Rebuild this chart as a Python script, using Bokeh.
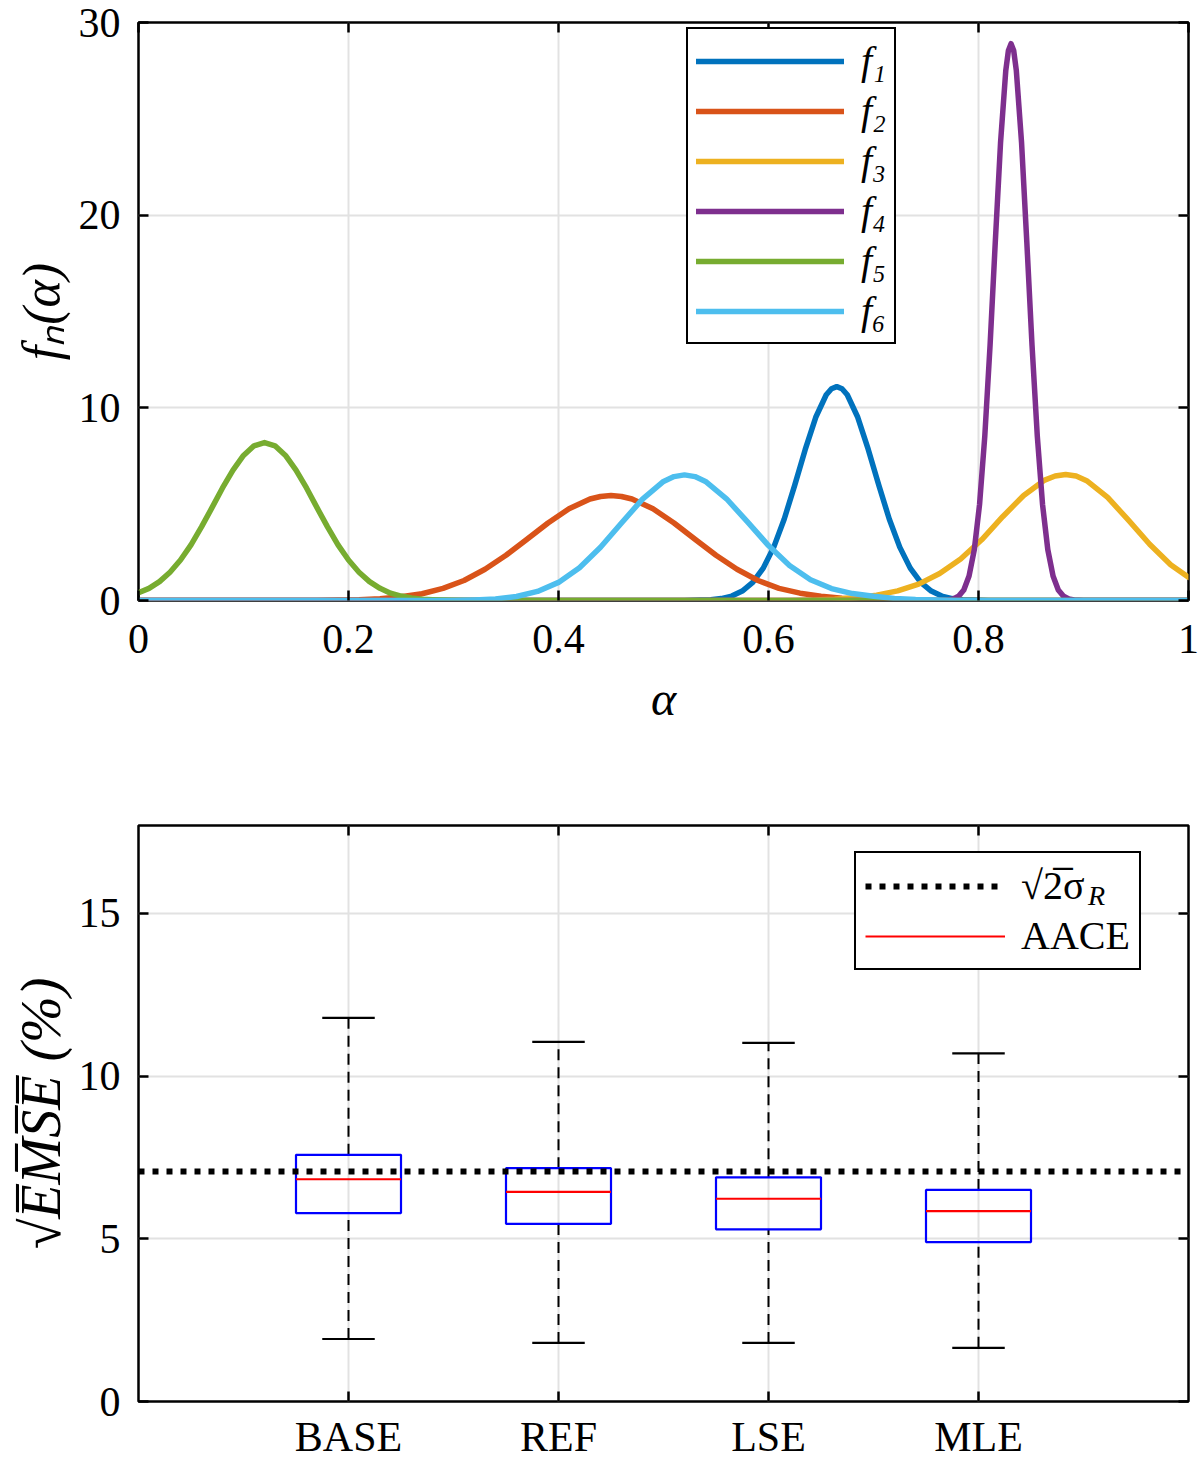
from bokeh.plotting import figure
from bokeh.layouts import column
from bokeh.models import LinearAxis, FixedTicker, Legend, LegendItem, Range1d
from bokeh.embed import file_html
from bokeh.resources import INLINE

# ---------------- top panel data ----------------
f1_alpha = [0.0, 0.52, 0.535, 0.545, 0.555, 0.565, 0.575, 0.585, 0.595, 0.605,
            0.615, 0.625, 0.635, 0.645, 0.655, 0.66, 0.665, 0.67, 0.675, 0.685,
            0.695, 0.705, 0.715, 0.725, 0.735, 0.745, 0.755, 0.765, 0.775, 0.785,
            0.795, 0.81, 1.0]
f1_val = [0, 0, 0.02, 0.04, 0.10, 0.23, 0.49, 0.94, 1.68, 2.77,
          4.23, 5.99, 7.84, 9.51, 10.68, 10.99, 11.10, 10.99, 10.68, 9.51,
          7.84, 5.99, 4.23, 2.77, 1.68, 0.94, 0.49, 0.23, 0.10, 0.04,
          0.02, 0, 0]

f2_alpha = [0.0, 0.17, 0.19, 0.21, 0.23, 0.25, 0.27, 0.29, 0.31, 0.33,
            0.35, 0.37, 0.39, 0.41, 0.43, 0.44, 0.45, 0.46, 0.47, 0.49,
            0.51, 0.53, 0.55, 0.57, 0.59, 0.61, 0.63, 0.65, 0.67, 0.69,
            0.71, 0.73, 0.76, 1.0]
f2_val = [0, 0, 0.02, 0.04, 0.09, 0.19, 0.35, 0.63, 1.04, 1.62,
          2.35, 3.18, 4.02, 4.76, 5.27, 5.40, 5.45, 5.40, 5.27, 4.76,
          4.02, 3.18, 2.35, 1.62, 1.04, 0.63, 0.38, 0.22, 0.12, 0.06,
          0.03, 0.01, 0, 0]

f3_alpha = [0.0, 0.62, 0.643, 0.663, 0.683, 0.703, 0.723, 0.743, 0.763, 0.783,
            0.803, 0.823, 0.843, 0.863, 0.873, 0.883, 0.893, 0.903, 0.923, 0.943,
            0.963, 0.983, 1.0]
f3_val = [0, 0, 0.02, 0.06, 0.14, 0.28, 0.50, 0.85, 1.40, 2.15,
          3.15, 4.35, 5.45, 6.25, 6.46, 6.54, 6.46, 6.22, 5.35, 4.16,
          2.92, 1.86, 1.20]

f4_alpha = [0.0, 0.76, 0.771, 0.776, 0.781, 0.786, 0.791, 0.796, 0.801, 0.806,
            0.811, 0.816, 0.821, 0.826, 0.8285, 0.831, 0.8335, 0.836, 0.841, 0.846,
            0.851, 0.856, 0.861, 0.866, 0.871, 0.876, 0.881, 0.886, 0.891, 0.90, 1.0]
f4_val = [0, 0, 0.03, 0.08, 0.22, 0.55, 1.27, 2.64, 4.98, 8.53,
          13.23, 18.62, 23.77, 27.52, 28.55, 28.90, 28.55, 27.52, 23.77, 18.62,
          13.23, 8.53, 4.98, 2.64, 1.27, 0.55, 0.22, 0.08, 0.03, 0, 0]

f5_alpha = [0.00, 0.01, 0.02, 0.03, 0.04, 0.05, 0.06, 0.07, 0.08, 0.09,
            0.10, 0.11, 0.12, 0.13, 0.14, 0.15, 0.16, 0.17, 0.18, 0.19,
            0.20, 0.21, 0.22, 0.23, 0.24, 0.25, 0.26, 0.27, 0.28, 0.29,
            0.30, 0.32, 1.0]
f5_val = [0.40, 0.63, 0.98, 1.47, 2.10, 2.89, 3.82, 4.82, 5.84, 6.77,
          7.53, 8.03, 8.20, 8.03, 7.53, 6.77, 5.84, 4.82, 3.82, 2.89,
          2.10, 1.47, 0.98, 0.63, 0.38, 0.23, 0.13, 0.07, 0.04, 0.02,
          0.01, 0, 0]

f6_alpha = [0.0, 0.30, 0.32, 0.34, 0.36, 0.38, 0.40, 0.42, 0.44, 0.46,
            0.48, 0.50, 0.51, 0.52, 0.53, 0.54, 0.56, 0.58, 0.60, 0.62,
            0.64, 0.66, 0.68, 0.70, 0.72, 0.74, 0.76, 0.78, 1.0]
f6_val = [0, 0, 0.03, 0.08, 0.21, 0.47, 0.94, 1.70, 2.76, 4.02,
          5.26, 6.18, 6.43, 6.52, 6.43, 6.18, 5.28, 4.08, 2.85, 1.82,
          1.08, 0.62, 0.36, 0.22, 0.11, 0.05, 0.02, 0, 0]

series_labels = ["f\u2081", "f\u2082", "f\u2083", "f\u2084", "f\u2085", "f\u2086"]
series_colors = ["#0072BD", "#D95319", "#EDB120", "#7E2F8E", "#77AC30", "#4DBEEE"]

top_x_ticks = [0, 0.2, 0.4, 0.6, 0.8, 1]
top_x_tick_labels = ["0", "0.2", "0.4", "0.6", "0.8", "1"]
top_y_ticks = [0, 10, 20, 30]

# ---------------- bottom panel data ----------------
methods = ["BASE", "REF", "LSE", "MLE"]
whisker_hi = [11.79, 11.05, 11.02, 10.70]
q3 = [7.58, 7.17, 6.89, 6.50]
medians = [6.83, 6.44, 6.23, 5.85]
q1 = [5.79, 5.46, 5.29, 4.90]
whisker_lo = [1.92, 1.80, 1.80, 1.65]
sigma_ref = 7.07
bottom_y_ticks = [0, 5, 10, 15]

FONT = "Liberation Serif"
TICK_FS = "42px"
GRID = "#E2E2E2"


def style_axis(ax, labels=True):
    ax.major_tick_in = 10
    ax.major_tick_out = 0
    ax.minor_tick_in = 0
    ax.minor_tick_out = 0
    ax.major_tick_line_width = 2.5
    ax.major_tick_line_color = "black"
    ax.axis_line_color = None
    ax.major_label_text_font = FONT
    ax.major_label_text_color = "black"
    if labels:
        ax.major_label_text_font_size = TICK_FS
    else:
        ax.major_label_text_font_size = "0px"
        ax.major_label_standoff = 0
        ax.axis_label = None


def finish(p):
    p.outline_line_color = "black"
    p.outline_line_width = 2.5
    p.outline_line_alpha = 1.0
    p.background_fill_color = "white"
    p.border_fill_color = "white"
    for g in (p.xgrid[0], p.ygrid[0]):
        g.grid_line_color = GRID
        g.grid_line_width = 2


# ---------------- top figure ----------------
p1 = figure(width=1200, height=740, x_range=Range1d(0, 1), y_range=Range1d(0, 30),
            output_backend="svg", toolbar_location=None,
            min_border_left=138, min_border_right=12, min_border_top=22, min_border_bottom=140)

xt1 = FixedTicker(ticks=top_x_ticks)
yt1 = FixedTicker(ticks=top_y_ticks)
p1.xaxis.ticker = xt1
p1.yaxis.ticker = yt1
p1.xgrid.ticker = xt1
p1.ygrid.ticker = yt1
p1.xaxis.major_label_overrides = dict(zip(top_x_ticks, top_x_tick_labels))
for ax in p1.xaxis + p1.yaxis:
    style_axis(ax)
p1.xaxis.major_label_standoff = 24
p1.yaxis.major_label_standoff = 18
p1.xaxis.axis_label = "\u03b1"
p1.yaxis.axis_label = "f\u2099(\u03b1)"
for ax in p1.xaxis + p1.yaxis:
    ax.axis_label_text_font = FONT
    ax.axis_label_text_font_style = "italic"
    ax.axis_label_text_color = "black"
p1.xaxis.axis_label_text_font_size = "48px"
p1.xaxis.axis_label_standoff = 16
p1.yaxis.axis_label_text_font_size = "52px"
p1.yaxis.axis_label_standoff = 6

top_ax = LinearAxis(ticker=xt1)
right_ax = LinearAxis(ticker=yt1)
style_axis(top_ax, labels=False)
style_axis(right_ax, labels=False)
p1.add_layout(top_ax, "above")
p1.add_layout(right_ax, "right")

all_alpha = [f1_alpha, f2_alpha, f3_alpha, f4_alpha, f5_alpha, f6_alpha]
all_val = [f1_val, f2_val, f3_val, f4_val, f5_val, f6_val]
items = []
for xs, ys, col, lab in zip(all_alpha, all_val, series_colors, series_labels):
    r = p1.line(xs, ys, line_color=col, line_width=5.5, line_join="round", line_cap="round")
    items.append(LegendItem(label=lab, renderers=[r]))

leg1 = Legend(items=items, location=(548, 256), margin=0, padding=8,
              glyph_width=148, glyph_height=40, label_height=40, spacing=3,
              label_standoff=17, label_text_font=FONT, label_text_font_size="40px",
              label_text_font_style="italic", label_text_color="black",
              border_line_color="black", border_line_width=2.5, border_line_alpha=1,
              background_fill_color="white", background_fill_alpha=1)
p1.add_layout(leg1)
finish(p1)

# ---------------- bottom figure ----------------
positions = [i + 1 for i in range(len(methods))]
p2 = figure(width=1200, height=722, x_range=Range1d(0, len(methods) + 1), y_range=Range1d(0, 17.7),
            output_backend="svg", toolbar_location=None,
            min_border_left=138, min_border_right=12, min_border_top=85, min_border_bottom=60)

xt2 = FixedTicker(ticks=positions)
yt2 = FixedTicker(ticks=bottom_y_ticks)
p2.xaxis.ticker = xt2
p2.yaxis.ticker = yt2
p2.xgrid.ticker = xt2
p2.ygrid.ticker = yt2
p2.xaxis.major_label_overrides = dict(zip(positions, methods))
for ax in p2.xaxis + p2.yaxis:
    style_axis(ax)
p2.xaxis.major_label_standoff = 12
p2.yaxis.major_label_standoff = 18
p2.yaxis.axis_label = "\u221aE\u0305M\u0305S\u0305E\u0305 (%)"
p2.yaxis.axis_label_text_font = FONT
p2.yaxis.axis_label_text_font_style = "italic"
p2.yaxis.axis_label_text_font_size = "56px"
p2.yaxis.axis_label_text_color = "black"
p2.yaxis.axis_label_standoff = 4

top_ax2 = LinearAxis(ticker=xt2)
right_ax2 = LinearAxis(ticker=yt2)
style_axis(top_ax2, labels=False)
style_axis(right_ax2, labels=False)
p2.add_layout(top_ax2, "above")
p2.add_layout(right_ax2, "right")

box_half = 0.25
cap_half = 0.125
p2.segment(x0=positions, y0=q3, x1=positions, y1=whisker_hi,
           line_color="black", line_width=2, line_dash="11 7")
p2.segment(x0=positions, y0=whisker_lo, x1=positions, y1=q1,
           line_color="black", line_width=2, line_dash="11 7")
p2.segment(x0=[x - cap_half for x in positions], y0=whisker_hi,
           x1=[x + cap_half for x in positions], y1=whisker_hi, line_color="black", line_width=2.2)
p2.segment(x0=[x - cap_half for x in positions], y0=whisker_lo,
           x1=[x + cap_half for x in positions], y1=whisker_lo, line_color="black", line_width=2.2)
p2.quad(left=[x - box_half for x in positions], right=[x + box_half for x in positions],
        bottom=q1, top=q3, fill_color=None, line_color="#0000FF", line_width=2.2)
med_r = p2.segment(x0=[x - box_half for x in positions], y0=medians,
                   x1=[x + box_half for x in positions], y1=medians,
                   line_color="#FF0000", line_width=2.2)
sig_r = p2.line(x=[0, len(methods) + 1], y=[sigma_ref, sigma_ref], line_color="black",
                line_width=6, line_dash="6 8", line_cap="butt")

leg2 = Legend(items=[LegendItem(label="\u221a2\u0305\u03c3", renderers=[sig_r]),
                     LegendItem(label="AACE", renderers=[med_r])],
              location=(716, 431), margin=0, padding=9,
              glyph_width=140, glyph_height=40, label_height=40, spacing=3,
              label_standoff=16, label_text_font=FONT, label_text_font_size="40px",
              label_text_color="black",
              border_line_color="black", border_line_width=2.5, border_line_alpha=1,
              background_fill_color="white", background_fill_alpha=1)
p2.add_layout(leg2)

# subscript "R" of the sigma label, as a transparent one-item legend drawn on top
leg_sub = Legend(items=[LegendItem(label="R", renderers=[sig_r])],
                 location=(950, 489), margin=0, padding=0,
                 glyph_width=0, glyph_height=1, label_height=20, spacing=0,
                 label_standoff=0, label_text_font=FONT, label_text_font_size="28px",
                 label_text_font_style="italic", label_text_color="black",
                 border_line_color=None, background_fill_color=None, background_fill_alpha=0)
p2.add_layout(leg_sub)
finish(p2)

layout = column(p1, p2, spacing=0)
open("out.html", "w").write(file_html(layout, INLINE))
